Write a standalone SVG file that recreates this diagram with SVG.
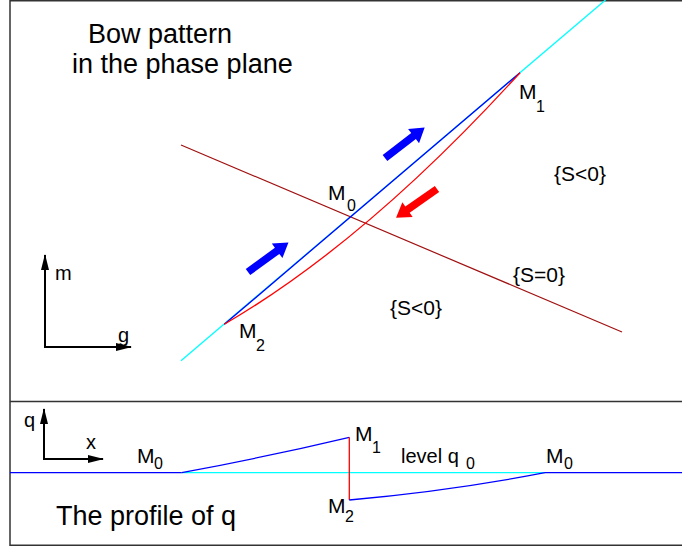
<svg xmlns="http://www.w3.org/2000/svg" width="682" height="548" viewBox="0 0 682 548">
<style>
text{font-family:"Liberation Sans",Arial,Helvetica,sans-serif;fill:#000}
.t{font-size:27px}
.l{font-size:21px}
.s{font-size:16px}
.a{font-size:20px}
.frame{fill:none;stroke:#333;stroke-width:1.5}
.ax{stroke:#000;stroke-width:2;fill:none}
.blue{stroke:#0000ff;stroke-width:1.3;fill:none}
.red{stroke:#ff0000;stroke-width:1.3;fill:none}
.cyan{stroke:#00ffff;stroke-width:1.3;fill:none}
.brown{stroke:#a01010;stroke-width:1.2;fill:none}
</style>
<defs>
<path id="fat" d="M0,-3.8 L36,-3.8 L36,-9 L50,0 L36,9 L36,3.8 L0,3.8 Z"/>
<marker id="ah" markerWidth="16" markerHeight="8" refX="15" refY="4" orient="auto" markerUnits="userSpaceOnUse">
<path d="M0,0 L16,4 L0,8 Z" fill="#000"/>
</marker>
</defs>
<g id="frame">
<rect class="frame" x="10" y="0.75" width="690" height="544.5"/>
<line class="frame" x1="10" y1="401.5" x2="690" y2="401.5"/>
</g>
<g id="title">
<text class="t" x="88" y="43">Bow pattern</text>
<text class="t" x="72" y="73">in the phase plane</text>
</g>
<g id="axes-mg">
<line class="ax" x1="45" y1="347" x2="45" y2="255" marker-end="url(#ah)"/>
<line class="ax" x1="44" y1="347" x2="131" y2="347" marker-end="url(#ah)"/>
<text class="a" x="55" y="280">m</text>
<text class="a" x="118" y="342">g</text>
</g>
<g id="connectors">
<line class="cyan" x1="181" y1="360.7" x2="605.5" y2="0"/>
<line class="brown" x1="181" y1="145" x2="622" y2="332"/>
<line class="blue" x1="224.3" y1="324.3" x2="520" y2="72.7"/>
<path class="red" d="M224.3,324.3 Q367.3,240.8 520,72.7"/>
<use href="#fat" fill="#0000ff" transform="translate(385,158) rotate(-37.5)"/>
<use href="#fat" fill="#0000ff" transform="translate(248,272) rotate(-36)"/>
<use href="#fat" fill="#ff0000" transform="translate(437,189) rotate(145)"/>
</g>
<g id="label-M0">
<text class="l" x="328" y="200">M<tspan class="s" x="347" y="211">0</tspan></text>
</g>
<g id="label-M1">
<text class="l" x="519" y="99">M<tspan class="s" x="536" y="112">1</tspan></text>
</g>
<g id="label-M2">
<text class="l" x="239" y="338">M<tspan class="s" x="256" y="351">2</tspan></text>
</g>
<g id="regions">
<text class="l" x="554" y="181">{S&lt;0}</text>
<text class="l" x="513" y="282">{S=0}</text>
<text class="l" x="390" y="315">{S&lt;0}</text>
</g>
<g id="axes-qx">
<line class="ax" x1="44" y1="459" x2="44" y2="409" marker-end="url(#ah)"/>
<line class="ax" x1="43" y1="459" x2="103" y2="459" marker-end="url(#ah)"/>
<text class="a" x="24" y="427">q</text>
<text class="a" x="86" y="449">x</text>
</g>
<g id="profile">
<line class="cyan" x1="181.7" y1="472.7" x2="545" y2="472.7"/>
<line class="blue" x1="10" y1="472.7" x2="181.7" y2="472.7"/>
<line class="blue" x1="545" y1="472.7" x2="690" y2="472.7"/>
<path class="blue" d="M181.7,472.7 Q266,457 349.3,437.3"/>
<line class="red" x1="349.3" y1="437.3" x2="349.3" y2="500"/>
<path class="blue" d="M349.3,500 Q450,491 545,472.7"/>
</g>
<g id="profile-labels">
<text class="l" x="137" y="463">M<tspan class="s" x="154" y="469">0</tspan></text>
<text class="l" x="355" y="441">M<tspan class="s" x="372" y="453">1</tspan></text>
<text class="l" x="328" y="513">M<tspan class="s" x="345" y="522">2</tspan></text>
<text class="l" x="546" y="463">M<tspan class="s" x="564" y="469">0</tspan></text>
<text x="401" y="463" style="font-size:20px">level q<tspan class="s" x="466" y="469">0</tspan></text>
<text class="t" x="56" y="525">The profile of q</text>
</g>
</svg>
